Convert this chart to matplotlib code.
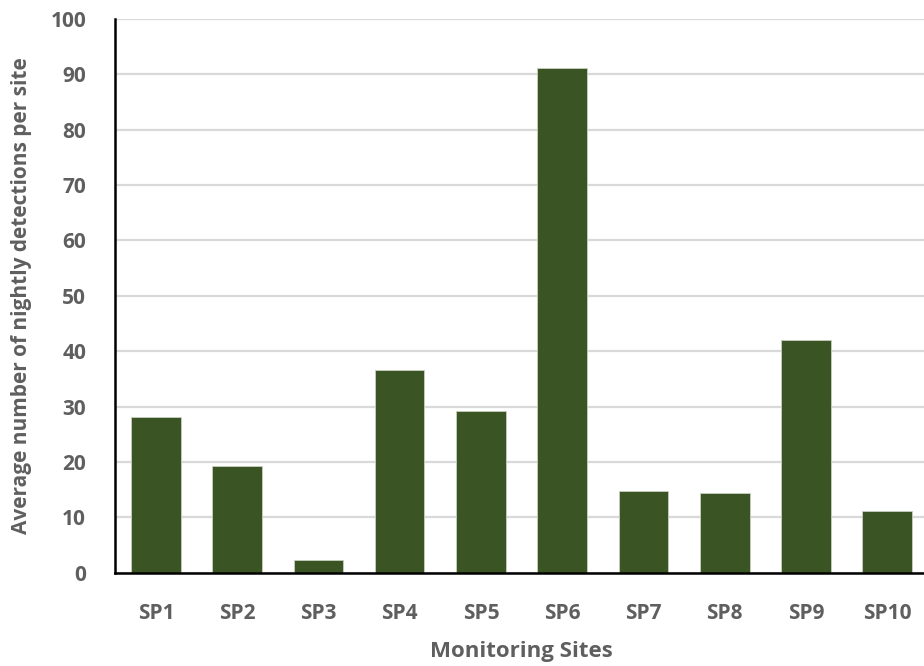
import matplotlib
matplotlib.use("Agg")
import matplotlib.pyplot as plt

# Average nightly detections at each monitoring site
sites = ["SP1", "SP2", "SP3", "SP4", "SP5", "SP6", "SP7", "SP8", "SP9", "SP10"]
detections = [28.1, 19.2, 2.3, 36.7, 29.2, 91.2, 14.8, 14.4, 42.0, 11.2]
y_ticks = [0, 10, 20, 30, 40, 50, 60, 70, 80, 90, 100]

BAR_COLOR = "#3b5424"
TEXT_COLOR = "#5f5f5f"
GRID_COLOR = "#d9d9d9"

plt.rcParams["font.family"] = ["Open Sans", "DejaVu Sans"]

fig = plt.figure(figsize=(9.24, 6.66), dpi=100)
ax = fig.add_axes([0.1248, 0.140, 0.8794, 0.8315])

x = range(len(sites))
ax.bar(x, detections, width=0.61, color=BAR_COLOR, edgecolor="#c8d0c0",
       linewidth=0.6, zorder=3)

ax.set_xlim(-0.5, 9.5)
ax.set_ylim(0, 100)
ax.set_yticks(y_ticks)
ax.set_xticks(list(x))
ax.set_xticklabels(sites)

ax.yaxis.grid(True, color=GRID_COLOR, linewidth=1.6, zorder=0)
ax.set_axisbelow(True)

for side in ("top", "right"):
    ax.spines[side].set_visible(False)
for side in ("left", "bottom"):
    ax.spines[side].set_color("black")
    ax.spines[side].set_linewidth(1.8)
    ax.spines[side].set_zorder(4)

ax.tick_params(axis="both", length=0, colors=TEXT_COLOR, labelsize=15)
ax.tick_params(axis="y", pad=21)
ax.tick_params(axis="x", pad=22)
for lbl in ax.get_xticklabels() + ax.get_yticklabels():
    lbl.set_fontweight("bold")

ax.set_xlabel("Monitoring Sites", fontsize=16, fontweight="bold",
              color=TEXT_COLOR, labelpad=12)
ax.set_ylabel("Average number of nightly detections per site", fontsize=15,
              fontweight="bold", color=TEXT_COLOR, labelpad=13)

fig.savefig("out.png", dpi=100)
